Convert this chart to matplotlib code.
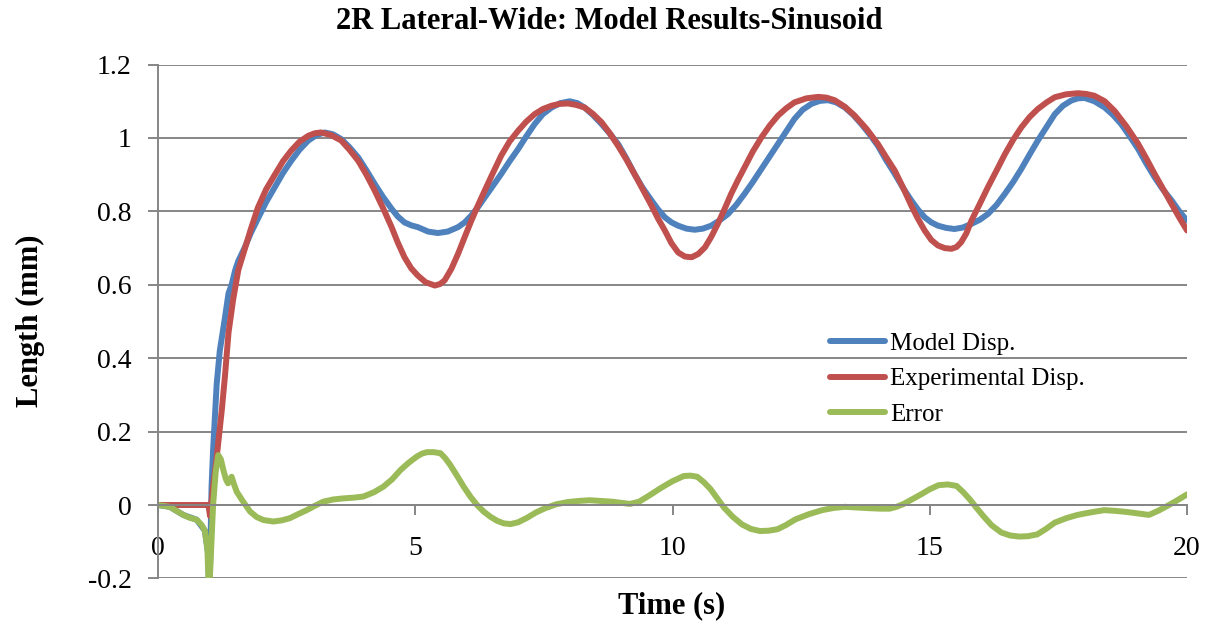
import numpy as np
import matplotlib
matplotlib.use("Agg")
import matplotlib.pyplot as plt

plt.rcParams['font.family'] = ['Liberation Serif', 'DejaVu Serif']

# values
t_model = [0, 0.23, 0.49, 0.75, 0.91, 0.97, 1.0, 1.04, 1.07, 1.14, 1.2, 1.3, 1.37, 1.43,
           1.5, 1.56, 1.68, 1.8, 1.94, 2.1, 2.27, 2.43, 2.59, 2.75, 2.92, 3.08, 3.24, 3.4,
           3.56, 3.72, 3.89, 4.05, 4.21, 4.37, 4.54, 4.66, 4.79, 4.92, 5.05, 5.25, 5.44,
           5.63, 5.83, 5.96, 6.09, 6.22, 6.35, 6.51, 6.67, 6.83, 7.0, 7.16, 7.32, 7.48,
           7.65, 7.82, 8.0, 8.15, 8.29, 8.45, 8.62, 8.78, 8.94, 9.1, 9.26, 9.42, 9.59,
           9.72, 9.85, 9.98, 10.11, 10.27, 10.43, 10.59, 10.75, 10.91, 11.08, 11.24, 11.4,
           11.56, 11.73, 11.89, 12.05, 12.21, 12.37, 12.53, 12.7, 12.86, 13.02, 13.18,
           13.35, 13.51, 13.67, 13.83, 13.99, 14.15, 14.32, 14.48, 14.64, 14.77, 14.9,
           15.03, 15.16, 15.32, 15.48, 15.64, 15.81, 15.97, 16.13, 16.3, 16.46, 16.62,
           16.78, 16.94, 17.1, 17.27, 17.43, 17.59, 17.75, 17.88, 18.01, 18.2, 18.4, 18.56,
           18.72, 18.88, 19.05, 19.21, 19.37, 19.53, 19.7, 19.85, 20.0]
model = [0, -0.005, -0.027, -0.04, -0.07, -0.13, -0.25, 0.05, 0.15, 0.33, 0.42, 0.51, 0.577, 0.6,
         0.64, 0.665, 0.70, 0.74, 0.78, 0.825, 0.866, 0.905, 0.938, 0.968, 0.993, 1.008, 1.015, 1.01,
         0.997, 0.975, 0.947, 0.912, 0.875, 0.84, 0.807, 0.786, 0.77, 0.762, 0.757, 0.745, 0.741,
         0.745, 0.757, 0.77, 0.789, 0.812, 0.838, 0.87, 0.902, 0.936, 0.97, 1.005, 1.038, 1.065,
         1.083, 1.095, 1.10, 1.095, 1.083, 1.063, 1.038, 1.012, 0.984, 0.945, 0.902, 0.864, 0.83,
         0.805, 0.784, 0.77, 0.761, 0.753, 0.75, 0.753, 0.761, 0.775, 0.793, 0.818, 0.848,
         0.88, 0.916, 0.95, 0.984, 1.018, 1.052, 1.077, 1.093, 1.101, 1.103, 1.097,
         1.083, 1.063, 1.038, 1.01, 0.979, 0.94, 0.902, 0.864, 0.83, 0.805, 0.784,
         0.77, 0.761, 0.755, 0.752, 0.756, 0.766, 0.777, 0.793, 0.818, 0.848, 0.88,
         0.916, 0.955, 0.993, 1.03, 1.065, 1.088, 1.102, 1.108, 1.109, 1.1, 1.083, 1.063,
         1.038, 1.006, 0.97, 0.93, 0.893, 0.86, 0.83, 0.80, 0.775]

t_exp = [0, 0.98, 1.01, 1.07, 1.14, 1.24, 1.30, 1.37, 1.46, 1.56, 1.69, 1.8, 1.94, 2.1, 2.27,
         2.43, 2.59, 2.75, 2.92, 3.05, 3.17, 3.36, 3.56, 3.72, 3.89, 4.05, 4.21, 4.37, 4.54,
         4.66, 4.79, 4.92, 5.05, 5.2, 5.38, 5.48, 5.57, 5.7, 5.83, 5.96, 6.09, 6.22, 6.35,
         6.51, 6.67, 6.83, 7.0, 7.16, 7.32, 7.48, 7.65, 7.81, 7.97, 8.13, 8.29, 8.45, 8.62,
         8.78, 8.94, 9.1, 9.26, 9.42, 9.59, 9.72, 9.85, 9.98, 10.11, 10.24, 10.37, 10.5,
         10.63, 10.75, 10.88, 11.01, 11.14, 11.27, 11.4, 11.56, 11.73, 11.89, 12.05, 12.21,
         12.37, 12.6, 12.83, 12.99, 13.15, 13.35, 13.54, 13.77, 13.99, 14.15, 14.32, 14.48,
         14.64, 14.77, 14.9, 15.03, 15.16, 15.29, 15.42, 15.52, 15.61, 15.71, 15.81, 15.97,
         16.13, 16.3, 16.46, 16.62, 16.78, 16.94, 17.1, 17.27, 17.43, 17.65, 17.88, 18.04,
         18.2, 18.4, 18.59, 18.82, 19.05, 19.21, 19.37, 19.53, 19.7, 19.85, 20.0]
experimental = [0, 0, -0.03, 0.05, 0.13, 0.26, 0.35, 0.47, 0.56, 0.64, 0.70, 0.75, 0.81, 0.86, 0.90,
                0.937, 0.966, 0.99, 1.006, 1.013, 1.015, 1.008, 0.993, 0.968, 0.938, 0.9, 0.857, 0.81,
                0.757, 0.715, 0.675, 0.645, 0.625, 0.607, 0.598, 0.602, 0.612, 0.643, 0.684, 0.73,
                0.775, 0.817, 0.857, 0.905, 0.952, 0.99, 1.02, 1.045, 1.065, 1.079, 1.088, 1.093,
                1.094, 1.09, 1.083, 1.066, 1.043, 1.013, 0.979, 0.942, 0.902, 0.86, 0.816, 0.78,
                0.748, 0.713, 0.688, 0.677, 0.675, 0.684, 0.702, 0.73, 0.766, 0.806, 0.848, 0.885,
                0.92, 0.963, 1.002, 1.034, 1.061, 1.081, 1.097, 1.108, 1.112, 1.11, 1.103, 1.085,
                1.061, 1.025, 0.984, 0.948, 0.911, 0.865, 0.816, 0.78, 0.748, 0.722, 0.707, 0.7,
                0.698, 0.703, 0.716, 0.74, 0.775, 0.82, 0.866, 0.912, 0.956, 0.995, 1.029, 1.057,
                1.079, 1.097, 1.111, 1.119, 1.122, 1.12, 1.115, 1.1, 1.074, 1.032, 0.984, 0.944,
                0.902, 0.862, 0.82, 0.783, 0.748]

t_err = [0, 0.23, 0.49, 0.62, 0.75, 0.85, 0.91, 0.96, 0.99, 1.07, 1.12, 1.17, 1.22, 1.27,
         1.32, 1.36, 1.43, 1.48, 1.53, 1.65, 1.79, 1.92, 2.05, 2.24, 2.4, 2.56, 2.72, 2.89,
         3.05, 3.21, 3.4, 3.6, 3.8, 3.99, 4.2, 4.38, 4.55, 4.71, 4.87, 5.03, 5.13, 5.23,
         5.36, 5.49, 5.58, 5.68, 5.81, 5.94, 6.07, 6.2, 6.33, 6.46, 6.59, 6.72, 6.85, 7.0,
         7.17, 7.35, 7.52, 7.74, 7.96, 8.17, 8.39, 8.61, 8.83, 9.0, 9.17, 9.35, 9.56, 9.78,
         10.0, 10.22, 10.35, 10.48, 10.61, 10.74, 10.87, 11.0, 11.17, 11.35, 11.52, 11.7,
         11.87, 12.04, 12.2, 12.39, 12.65, 12.91, 13.13, 13.35, 13.61, 13.87, 14.05, 14.22,
         14.35, 14.48, 14.65, 14.83, 15.0, 15.17, 15.35, 15.52, 15.65, 15.78, 15.91, 16.04,
         16.2, 16.39, 16.56, 16.74, 16.91, 17.09, 17.26, 17.43, 17.65, 17.87, 18.13, 18.39,
         18.61, 18.83, 19.05, 19.26, 19.45, 19.61, 19.8, 20.0]
error = [0, -0.005, -0.027, -0.035, -0.04, -0.055, -0.07, -0.12, -0.25, 0, 0.09, 0.136, 0.125,
         0.095, 0.07, 0.059, 0.077, 0.055, 0.036, 0.01, -0.018, -0.033, -0.041, -0.045, -0.042,
         -0.036, -0.025, -0.014, -0.002, 0.009, 0.015, 0.018, 0.02, 0.023, 0.035, 0.05, 0.07,
         0.095, 0.115, 0.132, 0.14, 0.144, 0.144, 0.141, 0.128, 0.109, 0.08, 0.05, 0.023, 0,
         -0.018, -0.032, -0.043, -0.05, -0.052, -0.047, -0.035, -0.02, -0.009, 0.002, 0.008,
         0.011, 0.013, 0.011, 0.009, 0.006, 0.003, 0.009, 0.027, 0.047, 0.065, 0.079, 0.08,
         0.077, 0.062, 0.043, 0.018, -0.007, -0.032, -0.053, -0.065, -0.071, -0.07, -0.066,
         -0.055, -0.039, -0.025, -0.014, -0.008, -0.005, -0.007, -0.009, -0.01, -0.01, -0.005,
         0.002, 0.015, 0.029, 0.043, 0.054, 0.056, 0.052, 0.035, 0.015, -0.008, -0.03, -0.055,
         -0.075, -0.083, -0.086, -0.085, -0.08, -0.065, -0.048, -0.036, -0.027, -0.02, -0.014,
         -0.016, -0.019, -0.023, -0.027, -0.015, -0.003, 0.012, 0.029]

y_ticks = [-0.2, 0, 0.2, 0.4, 0.6, 0.8, 1.0, 1.2]
y_labels = ['-0.2', '0', '0.2', '0.4', '0.6', '0.8', '1', '1.2']
x_ticks = [0, 5, 10, 15, 20]

fig = plt.figure(figsize=(12.12, 6.27), dpi=100)
ax = fig.add_axes([0.1304, 0.0775, 0.8490, 0.8195])

grid_col = '#868686'
lw = 4.3
ax.plot(t_model, model, color='#4F81BD', lw=lw, label='Model Disp.',
        solid_capstyle='round', solid_joinstyle='round')
ax.plot(t_exp, experimental, color='#C0504D', lw=lw, label='Experimental Disp.',
        solid_capstyle='round', solid_joinstyle='round')
ax.plot(t_err, error, color='#9BBB59', lw=lw, label='Error',
        solid_capstyle='round', solid_joinstyle='round')

ax.set_xlim(0, 20)
ax.set_ylim(-0.2, 1.2)
ax.set_yticks(y_ticks)
ax.set_yticklabels(y_labels)
ax.set_xticks(x_ticks)
for y in y_ticks:
    ax.axhline(y, color=grid_col, lw=1.4, zorder=0)

for s in ['top', 'right']:
    ax.spines[s].set_visible(False)
ax.spines['left'].set_color(grid_col)
ax.spines['left'].set_linewidth(1.4)
ax.spines['bottom'].set_position(('data', 0))
ax.spines['bottom'].set_color(grid_col)
ax.spines['bottom'].set_linewidth(1.4)
ax.tick_params(axis='y', direction='out', length=7, width=1.4, color=grid_col,
               labelsize=20, pad=12)
ax.tick_params(axis='x', direction='out', length=7, width=1.4, color=grid_col,
               labelsize=20, pad=15)

fig.text(0.503, 0.965, '2R Lateral-Wide: Model Results-Sinusoid', ha='center', va='center',
         fontsize=22, fontweight='bold')
fig.text(0.5545, 0.0335, 'Time (s)', ha='center', va='center', fontsize=22, fontweight='bold')
fig.text(0.0248, 0.488, 'Length (mm)', ha='center', va='center', rotation=90,
         fontsize=22, fontweight='bold')

ax.legend(loc='upper left', bbox_to_anchor=(0.685, 0.470), bbox_transform=fig.transFigure,
          frameon=False, fontsize=18, handlelength=2.2, handletextpad=0.2,
          labelspacing=0.52, borderpad=0, borderaxespad=0)

fig.savefig('out.png', dpi=100)
